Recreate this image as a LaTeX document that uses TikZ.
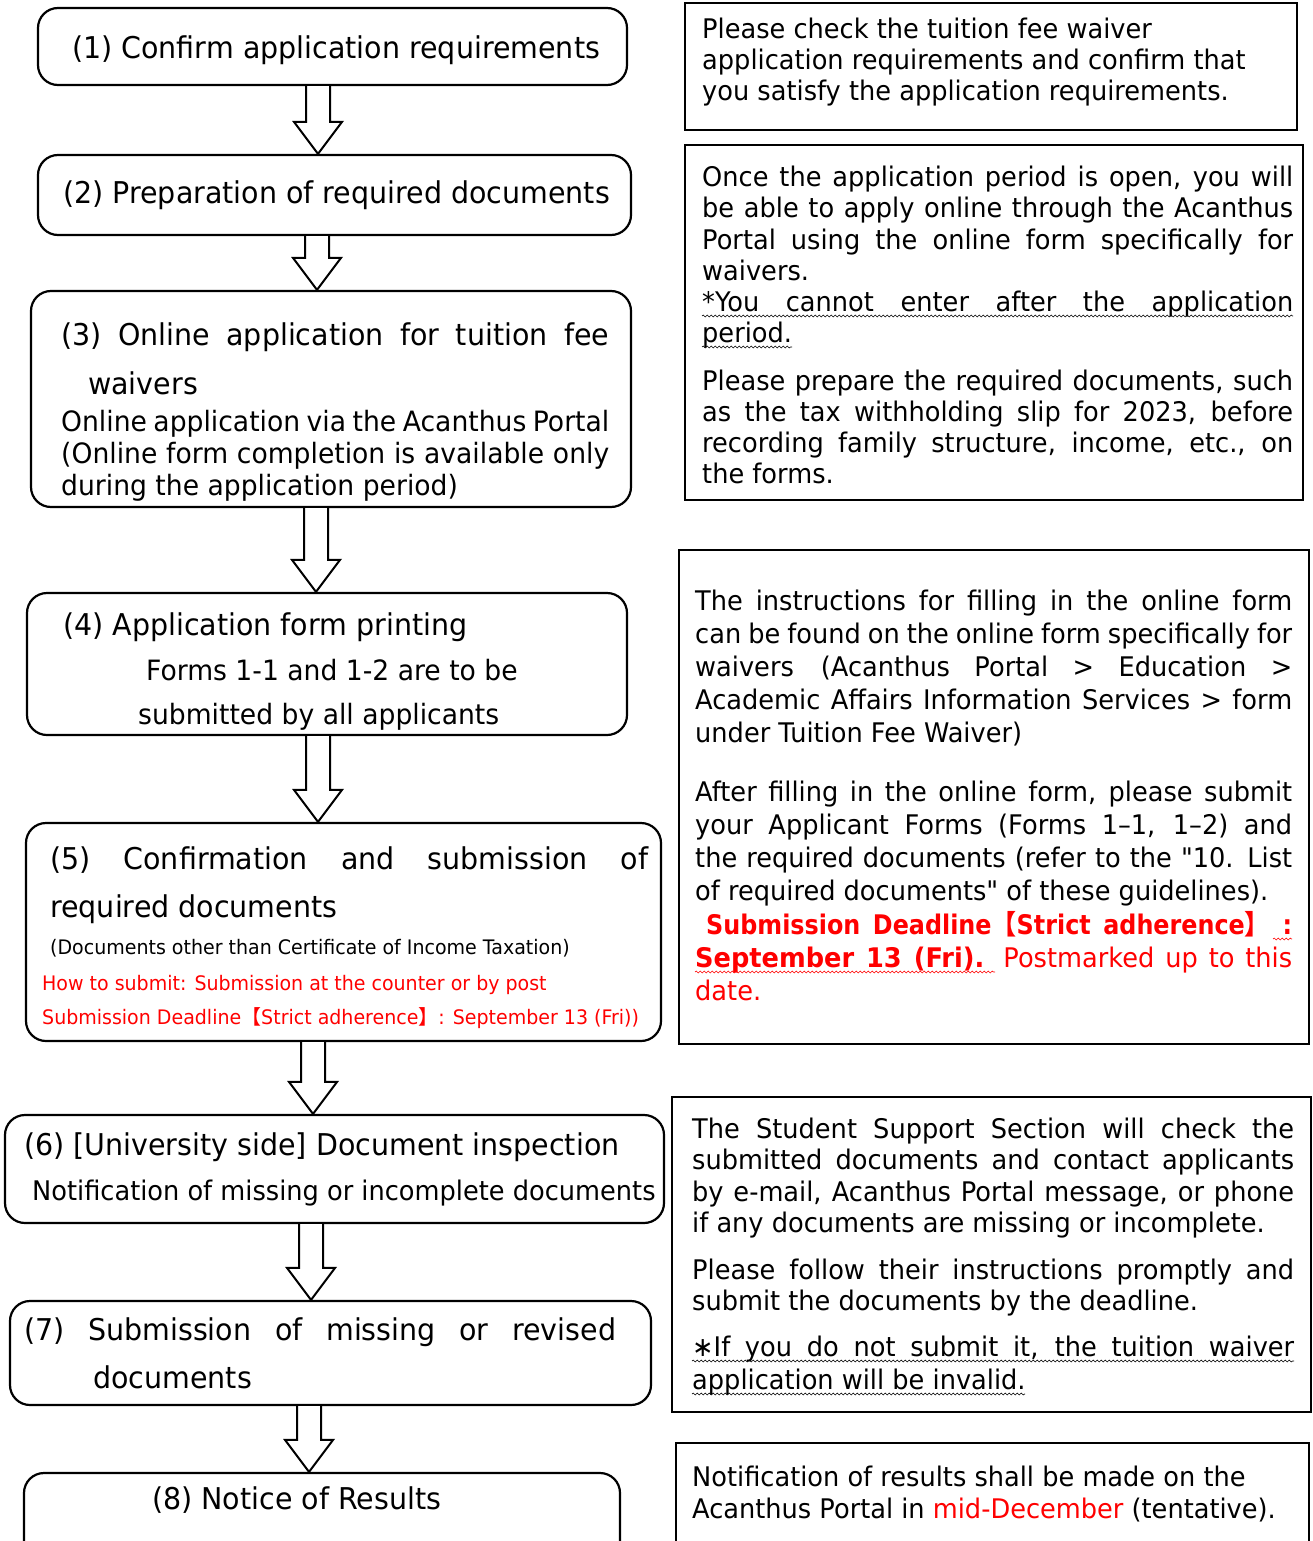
\documentclass[tikz,border=0pt]{standalone}
\usepackage{graphicx}
\usepackage{fontspec}
\setmainfont{DejaVu Sans}[FakeStretch=0.95]
\newfontfamily\qfam{DejaVu Sans}[FakeStretch=0.95,Ligatures=TeXOff]
\newfontfamily\cjk{Noto Sans CJK JP}
\usetikzlibrary{calc,decorations.pathmorphing}
\newcommand\szA{\fontsize{30}{36}\selectfont}
\newcommand\szB{\fontsize{28}{32}\selectfont}
\newcommand\szE{\fontsize{27}{32}\selectfont}
\newcommand\szC{\fontsize{27}{31}\selectfont}
\newcommand\szD{\fontsize{20}{26}\selectfont}
\newcommand\jst[2]{\makebox[#1pt][s]{#2}}
\newcommand\lb{{\cjk 【}}
\newcommand\rb{{\cjk 】}}
\newcommand\dq{{\qfam"}}
\definecolor{rd}{HTML}{FF0000}
\tikzset{
  stepbox/.style={draw, line width=2.2pt, rounded corners=20pt, inner sep=0pt},
  notebox/.style={draw, line width=2.2pt, inner sep=0pt},
  tx/.style={inner sep=0pt, anchor=base west},
  barw/.style={draw, line width=2pt, fill=white, line join=miter},
  wavy/.style={line width=0.6pt, decorate, decoration={snake, amplitude=0.9pt, segment length=4pt}}
}
\newcommand\barrow[3]{%
  \path[barw] let \p1=(#2.south), \p2=(#3.north) in
    (#1-12,\y1) -- (#1-12,\y2+32) -- (#1-24,\y2+32) -- (#1,\y2) -- (#1+24,\y2+32) -- (#1+12,\y2+32) -- (#1+12,\y1);}
\begin{document}
\begin{tikzpicture}[x=1pt,y=-1pt]
\useasboundingbox[fill=white] (0,0) rectangle (1312,1541);
% left step boxes
\node[stepbox, minimum width=589pt, minimum height=77pt] (s1) at (332.5,46.5) {};
\node[stepbox, minimum width=593pt, minimum height=80pt] (s2) at (334.5,195) {};
\node[stepbox, minimum width=600pt, minimum height=216pt] (s3) at (331,399) {};
\node[stepbox, minimum width=600pt, minimum height=142pt] (s4) at (327,664) {};
\node[stepbox, minimum width=635pt, minimum height=218pt] (s5) at (343.5,932) {};
\node[stepbox, minimum width=659pt, minimum height=108pt] (s6) at (334.5,1169) {};
\node[stepbox, minimum width=641pt, minimum height=104pt] (s7) at (330.5,1353) {};
\node[stepbox, minimum width=596pt, minimum height=107pt] (s8) at (322,1526.5) {};
% arrows
\barrow{318}{s1}{s2}
\barrow{317}{s2}{s3}
\barrow{316}{s3}{s4}
\barrow{318}{s4}{s5}
\barrow{313}{s5}{s6}
\barrow{311}{s6}{s7}
\barrow{309}{s7}{s8}
% right note boxes
\node[notebox, minimum width=612pt, minimum height=127pt] (r1) at (991,66.5) {};
\node[notebox, minimum width=618pt, minimum height=355pt] (r2) at (994,322.5) {};
\node[notebox, minimum width=630pt, minimum height=494pt] (r3) at (994,797) {};
\node[notebox, minimum width=639pt, minimum height=315pt] (r4) at (991.5,1254.5) {};
\node[notebox, minimum width=633pt, minimum height=157pt] (r5) at (992.5,1521.5) {};
% step texts
\node[tx] (t1) at (72,59) {\szA (1) Confirm application requirements};
\node[tx] (t2) at (63,204) {\szA (2) Preparation of required documents};
\node[tx] (t3a) at (61,345) {\szA\jst{548}{(3) Online application for tuition fee}};
\node[tx] (t3b) at (88,394) {\szA waivers};
\node[tx] (t3c) at (61,431) {\szB\jst{548}{Online application via the Acanthus Portal}};
\node[tx] (t3d) at (61,463) {\szB\jst{548}{(Online form completion is available only}};
\node[tx] (t3e) at (61,495) {\szB during the application period)};
\node[tx] (t4a) at (63,635) {\szA (4) Application form printing};
\node[tx] (t4b) at (146,680) {\szB Forms 1-1 and 1-2 are to be};
\node[tx] (t4c) at (138,724) {\szB submitted by all applicants};
\node[tx] (t5a) at (50,869) {\szA\jst{598}{(5) Confirmation and submission of}};
\node[tx] (t5b) at (50,917) {\szA required documents};
\node[tx] (t5c) at (50,954) {\szD (Documents other than Certificate of Income Taxation)};
\node[tx, text=rd] (t5d) at (42,990) {\szD How to submit: Submission at the counter or by post};
\node[tx, text=rd] (t5e) at (42,1024) {\szD Submission Deadline\lb Strict adherence\rb: September 13 (Fri))};
\node[tx] (t6a) at (24,1155) {\szA (6) [University side] Document inspection};
\node[tx] (t6b) at (32,1200) {\szE Notification of missing or incomplete documents};
\node[tx] (t7a) at (24,1340) {\szA\jst{592}{(7) Submission of missing or revised}};
\node[tx] (t7b) at (93,1388) {\szA documents};
\node[tx] (t8) at (152,1509) {\szA (8) Notice of Results};
% note texts
\node[tx] (n1a) at (702,39) {\szC Please check the tuition fee waiver};
\node[tx] (n1b) at (702,70) {\szC application requirements and confirm that};
\node[tx] (n1c) at (702,101) {\szC you satisfy the application requirements.};
\node[tx] (n2a) at (702,186) {\szC\jst{591}{Once the application period is open, you will}};
\node[tx] (n2b) at (702,218) {\szC\jst{591}{be able to apply online through the Acanthus}};
\node[tx] (n2c) at (702,249) {\szC\jst{591}{Portal using the online form specifically for}};
\node[tx] (n2d) at (702,280) {\szC waivers.};
\node[tx] (n2e) at (702,311) {\szC\jst{591}{*You cannot enter after the application}};
\node[tx] (n2f) at (702,342) {\szC period.};
\node[tx] (n2g) at (702,390) {\szC\jst{591}{Please prepare the required documents, such}};
\node[tx] (n2h) at (702,421) {\szC\jst{591}{as the tax withholding slip for 2023, before}};
\node[tx] (n2i) at (702,452) {\szC\jst{591}{recording family structure, income, etc., on}};
\node[tx] (n2j) at (702,483) {\szC the forms.};
\draw[wavy] (702,316) -- (1293,316);
\draw[wavy] (702,347) -- (792,347);
\node[tx] (n3a) at (695,610) {\szC\jst{597}{The instructions for filling in the online form}};
\node[tx] (n3b) at (695,643) {\szC\jst{597}{can be found on the online form specifically for}};
\node[tx] (n3c) at (695,676) {\szC\jst{597}{waivers\quad (Acanthus Portal > Education >}};
\node[tx] (n3d) at (695,709) {\szC\jst{597}{Academic Affairs Information Services > form}};
\node[tx] (n3e) at (695,742) {\szC under Tuition Fee Waiver)};
\node[tx] (n3f) at (695,801) {\szC\jst{597}{After filling in the online form, please submit}};
\node[tx] (n3g) at (695,834) {\szC\jst{597}{your Applicant Forms (Forms 1–1, 1–2) and}};
\node[tx] (n3h) at (695,867) {\szC\jst{597}{the required documents (refer to the \dq 10. List}};
\node[tx] (n3i) at (695,900) {\szC of required documents\dq{} of these guidelines).};
\node[tx, text=rd] (n3j) at (706,934) {\szC\bfseries\scalebox{0.93}[1]{\jst{630}{Submission Deadline\lb Strict adherence\rb\ :}}};
\node[tx, text=rd] (n3k) at (695,967) {\szC\jst{597}{{\bfseries September 13 (Fri).} Postmarked up to this}};
\node[tx, text=rd] (n3l) at (695,1000) {\szC date.};
\draw[wavy, rd] (695,972) -- (995,972);
\draw[wavy, rd] (1273,939) -- (1292,939);
\node[tx] (n4a) at (692,1138) {\szC\jst{602}{The Student Support Section will check the}};
\node[tx] (n4b) at (692,1169) {\szC\jst{602}{submitted documents and contact applicants}};
\node[tx] (n4c) at (692,1201) {\szC\jst{602}{by e-mail, Acanthus Portal message, or phone}};
\node[tx] (n4d) at (692,1232) {\szC if any documents are missing or incomplete.};
\node[tx] (n4e) at (692,1279) {\szC\jst{602}{Please follow their instructions promptly and}};
\node[tx] (n4f) at (692,1310) {\szC submit the documents by the deadline.};
\node[tx] (n4g) at (692,1356) {\szC\jst{602}{∗If you do not submit it, the tuition waiver}};
\node[tx] (n4h) at (692,1389) {\szC application will be invalid.};
\draw[wavy] (692,1361) -- (1294,1361);
\draw[wavy] (692,1394) -- (1025,1394);
\node[tx] (n5a) at (692,1486) {\szC Notification of results shall be made on the};
\node[tx] (n5b) at (692,1518) {\szC Acanthus Portal in \textcolor{rd}{mid-December} (tentative).};
\end{tikzpicture}
\end{document}
